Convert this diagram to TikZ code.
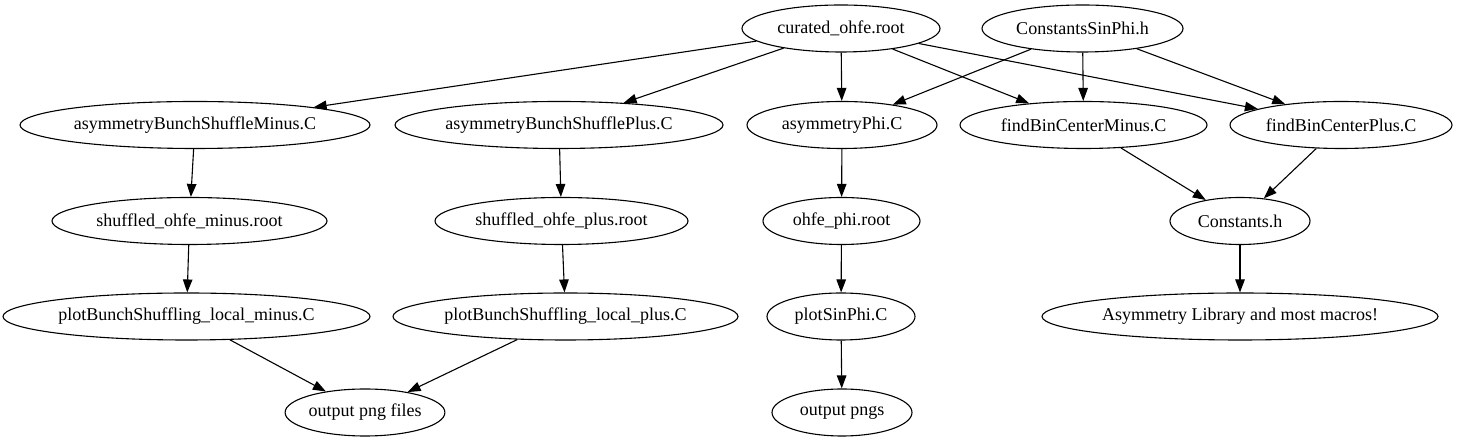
\documentclass[tikz,border=0pt]{standalone}
\usepackage{fontspec}
\setmainfont{Liberation Serif}
\usetikzlibrary{shapes.geometric,arrows.meta}
\begin{document}
\begin{tikzpicture}[x=1pt,y=1pt,
  nd/.style={draw=black,ellipse,line width=1.1pt,inner sep=0pt,minimum height=47pt,
    font=\fontsize{18}{22}\selectfont},
  edge/.style={line width=1.1pt,-{Triangle[length=13pt,width=9.5pt]}}]
\useasboundingbox (0,0) rectangle (1461,443);
\node[nd,minimum width=198pt] (cur) at (841,414.5) {curated\_ohfe.root};
\node[nd,minimum width=201pt] (csp) at (1082.5,414.5) {ConstantsSinPhi.h};
\node[nd,minimum width=350pt] (abm) at (195,318) {asymmetryBunchShuffleMinus.C};
\node[nd,minimum width=328pt] (abp) at (559,318) {asymmetryBunchShufflePlus.C};
\node[nd,minimum width=190pt] (aph) at (842,318) {asymmetryPhi.C};
\node[nd,minimum width=247pt] (fbm) at (1083.5,318) {findBinCenterMinus.C};
\node[nd,minimum width=222pt] (fbp) at (1341,318) {findBinCenterPlus.C};
\node[nd,minimum width=275pt] (som) at (189.5,222) {shuffled\_ohfe\_minus.root};
\node[nd,minimum width=253pt] (sop) at (561.5,222) {shuffled\_ohfe\_plus.root};
\node[nd,minimum width=157pt] (ohp) at (841.5,222) {ohfe\_phi.root};
\node[nd,minimum width=140pt] (con) at (1240,222) {Constants.h};
\node[nd,minimum width=367pt] (pbm) at (186.5,126.5) {plotBunchShuffling\_local\_minus.C};
\node[nd,minimum width=345pt] (pbp) at (565.5,126.5) {plotBunchShuffling\_local\_plus.C};
\node[nd,minimum width=148pt] (psp) at (841,126.5) {plotSinPhi.C};
\node[nd,minimum width=396pt] (lib) at (1240,126.5) {Asymmetry Library and most macros!};
\node[nd,minimum width=154pt] (opf) at (365,30.5) {output png files};
\node[nd,minimum width=140pt] (ops) at (842,30.5) {output pngs};
\draw[edge] (cur) -- (abm);
\draw[edge] (cur) -- (abp);
\draw[edge] (cur) -- (aph);
\draw[edge] (cur) -- (fbm);
\draw[edge] (cur) -- (fbp);
\draw[edge] (csp) -- (aph);
\draw[edge] (csp) -- (fbm);
\draw[edge] (csp) -- (fbp);
\draw[edge] (abm) -- (som);
\draw[edge] (som) -- (pbm);
\draw[edge] (pbm) -- (opf);
\draw[edge] (abp) -- (sop);
\draw[edge] (sop) -- (pbp);
\draw[edge] (pbp) -- (opf);
\draw[edge] (aph) -- (ohp);
\draw[edge] (ohp) -- (psp);
\draw[edge] (psp) -- (ops);
\draw[edge] (fbm) -- (con);
\draw[edge] (fbp) -- (con);
\draw[edge] (con) -- (lib);
\end{tikzpicture}
\end{document}
